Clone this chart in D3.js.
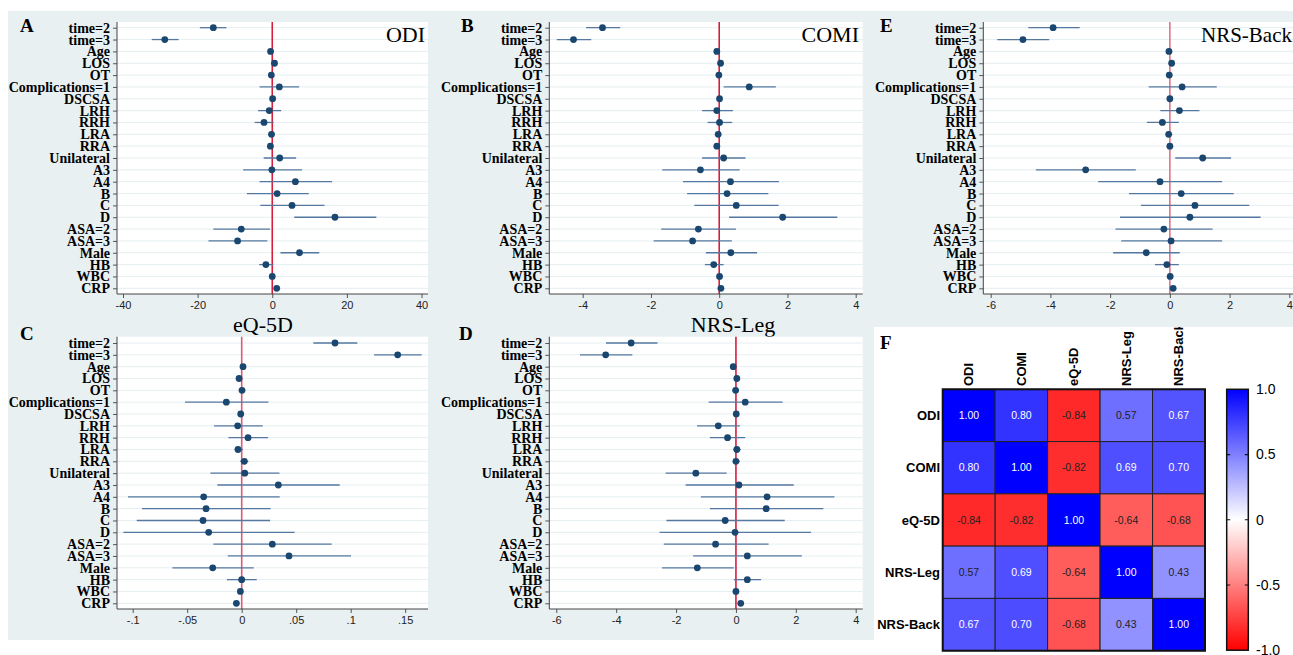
<!DOCTYPE html>
<html>
<head>
<meta charset="utf-8">
<script src="https://cdn.jsdelivr.net/npm/d3@7"></script>
<style>
body { margin: 0; background: #fff; }
svg { display: block; }
.ylab text { font-family: "Liberation Serif", "Times New Roman", serif; font-weight: bold; font-size: 14px; fill: #000; }
.xax text { font-family: "Liberation Sans", Arial, sans-serif; font-size: 11px; fill: #222; }
</style>
</head>
<body>
<svg id="fig" width="1293" height="655"></svg>
<script>
// row labels (same for every forest plot)
var rowLabels = ["time=2", "time=3", "Age", "LOS", "OT", "Complications=1", "DSCSA", "LRH", "RRH",
    "LRA", "RRA", "Unilateral", "A3", "A4", "B", "C", "D", "ASA=2", "ASA=3", "Male", "HB", "WBC", "CRP"];

// A - ODI
var odiEst = [-15.8, -28.8, -0.45, 0.6, -0.25, 1.9, 0.1, -0.8, -2.2, -0.2, -0.5, 2.0, -0.1, 6.2, 1.3, 5.3, 16.8, -8.3, -9.3, 7.3, -1.7, 0.0, 1.2];
var odiLo = [-19.4, -32.3, -0.7, 0.3, -0.5, -3.4, -0.2, -3.8, -4.7, -0.5, -0.8, -2.3, -7.8, -3.4, -6.8, -3.2, 5.9, -15.8, -17.1, 2.2, -3.5, -0.3, 0.9];
var odiHi = [-12.3, -25.1, -0.2, 0.9, 0.0, 7.2, 0.4, 2.4, 0.4, 0.1, -0.2, 6.4, 8.0, 16.0, 9.8, 14.0, 27.9, -0.6, -1.3, 12.6, 0.3, 0.3, 1.5];
var odiTicks = [-40, -20, 0, 20, 40];
var odiTickLabels = ["-40", "-20", "0", "20", "40"];

// B - COMI
var comiEst = [-3.42, -4.27, -0.07, 0.04, -0.01, 0.88, 0.01, -0.07, 0.01, -0.03, -0.07, 0.13, -0.55, 0.33, 0.23, 0.50, 1.86, -0.61, -0.78, 0.34, -0.16, 0.01, 0.05];
var comiLo = [-3.90, -4.76, -0.10, 0.01, -0.04, 0.13, -0.02, -0.50, -0.34, -0.06, -0.10, -0.50, -1.67, -1.06, -0.94, -0.73, 0.29, -1.70, -1.92, -0.39, -0.42, -0.02, 0.02];
var comiHi = [-2.90, -3.75, -0.04, 0.07, 0.02, 1.66, 0.04, 0.40, 0.38, 0.00, -0.04, 0.77, 0.60, 1.75, 1.44, 1.74, 3.46, 0.49, 0.37, 1.11, 0.13, 0.04, 0.08];
var comiTicks = [-4, -2, 0, 2, 4];
var comiTickLabels = ["-4", "-2", "0", "2", "4"];

// E - NRS-Back
var backEst = [-3.91, -4.92, -0.03, 0.06, -0.02, 0.41, 0.00, 0.32, -0.25, -0.04, 0.00, 1.10, -2.82, -0.33, 0.38, 0.84, 0.67, -0.20, 0.04, -0.79, -0.10, 0.01, 0.11];
var backLo = [-4.74, -5.78, -0.06, 0.03, -0.05, -0.71, -0.03, -0.32, -0.77, -0.13, -0.10, 0.18, -4.49, -2.40, -1.37, -0.97, -1.67, -1.82, -1.63, -1.90, -0.50, -0.02, 0.06];
var backHi = [-3.02, -4.04, 0.00, 0.09, 0.01, 1.57, 0.03, 0.99, 0.30, 0.08, 0.11, 2.05, -1.14, 1.75, 2.14, 2.66, 3.04, 1.43, 1.75, 0.33, 0.30, 0.04, 0.16];
var backTicks = [-6, -4, -2, 0, 2, 4];
var backTickLabels = ["-6", "-4", "-2", "0", "2", "4"];

// C - eQ-5D
var eqEst = [0.0856, 0.1431, 0.0012, -0.0024, 0.0003, -0.0141, -0.0009, -0.0037, 0.0058, -0.0034, 0.0024, 0.0028, 0.0336, -0.0349, -0.0327, -0.0355, -0.0303, 0.0281, 0.0434, -0.0266, 0.0000, -0.0012, -0.0049];
var eqLo = [0.0657, 0.1214, 0.0003, -0.0033, -0.0006, -0.0520, -0.0018, -0.0254, -0.0122, -0.0064, -0.0015, -0.0287, -0.0223, -0.1043, -0.0914, -0.0963, -0.1086, -0.0260, -0.0128, -0.0636, -0.0135, -0.0021, -0.0075];
var eqHi = [0.1061, 0.1651, 0.0021, -0.0015, 0.0012, 0.0245, 0.0000, 0.0193, 0.0242, 0.0012, 0.0061, 0.0346, 0.0899, 0.0349, 0.0266, 0.0260, 0.0486, 0.0826, 0.1003, 0.0110, 0.0138, -0.0003, -0.0023];
var eqTicks = [-0.1, -0.05, 0, 0.05, 0.1, 0.15];
var eqTickLabels = ["-.1", "-.05", "0", ".05", ".1", ".15"];

// D - NRS-Leg
var legEst = [-3.50, -4.35, -0.09, 0.03, -0.01, 0.31, 0.01, -0.59, -0.28, 0.03, 0.00, -1.34, 0.10, 1.04, 1.01, -0.36, -0.03, -0.68, 0.38, -1.29, 0.38, 0.00, 0.16];
var legLo = [-4.34, -5.21, -0.12, 0.00, -0.04, -0.91, -0.02, -1.30, -0.87, -0.09, -0.10, -2.35, -1.68, -1.17, -0.87, -2.32, -2.55, -2.41, -1.43, -2.47, -0.07, -0.03, 0.07];
var legHi = [-2.62, -3.46, -0.06, 0.06, 0.02, 1.56, 0.04, 0.13, 0.31, 0.16, 0.13, -0.31, 1.93, 3.29, 2.92, 1.63, 2.51, 1.09, 2.20, -0.07, 0.84, 0.03, 0.25];
var legTicks = [-6, -4, -2, 0, 2, 4];
var legTickLabels = ["-6", "-4", "-2", "0", "2", "4"];

// F - correlation matrix
var heatNames = ["ODI", "COMI", "eQ-5D", "NRS-Leg", "NRS-Back"];
var heatODI = [1.00, 0.80, -0.84, 0.57, 0.67];
var heatCOMI = [0.80, 1.00, -0.82, 0.69, 0.70];
var heatEQ = [-0.84, -0.82, 1.00, -0.64, -0.68];
var heatLeg = [0.57, 0.69, -0.64, 1.00, 0.43];
var heatBack = [0.67, 0.70, -0.68, 0.43, 1.00];
var legendTicks = [1, 0.5, 0, -0.5, -1];
var legendTickLabels = ["1.0", "0.5", "0", "-0.5", "-1.0"];

var svg = d3.select("#fig");
var serif = '"Liberation Serif", "Times New Roman", serif';
var sans = '"Liberation Sans", Arial, sans-serif';

// light graph region behind everything
svg.append("rect").attr("x", 8).attr("y", 11).attr("width", 1285).attr("height", 629).attr("fill", "#e9f0f2");

var panels = [
    { letter: "A", title: "ODI", est: odiEst, lo: odiLo, hi: odiHi, ticks: odiTicks, tickLabels: odiTickLabels,
      left: 117, right: 428, top: 22, bottom: 294, firstRow: 27.7, lastRow: 288.3, t0: 123, t1: 421.5,
      letterX: 20, letterY: 32, titleX: 425, titleY: 42, titleAnchor: "end", titleSize: 22, titleInside: true, zero: "#d61f3d" },
    { letter: "B", title: "COMI", est: comiEst, lo: comiLo, hi: comiHi, ticks: comiTicks, tickLabels: comiTickLabels,
      left: 549.3, right: 862.7, top: 22, bottom: 294, firstRow: 27.7, lastRow: 288.3, t0: 582.7, t1: 855.7,
      letterX: 461, letterY: 32, titleX: 859, titleY: 42, titleAnchor: "end", titleSize: 22, titleInside: true, zero: "#d61f3d" },
    { letter: "E", title: "NRS-Back", est: backEst, lo: backLo, hi: backHi, ticks: backTicks, tickLabels: backTickLabels,
      left: 983.3, right: 1293, top: 22, bottom: 294, firstRow: 27.7, lastRow: 288.3, t0: 990.7, t1: 1289.3,
      letterX: 880, letterY: 32, titleX: 1292, titleY: 42, titleAnchor: "end", titleSize: 21, titleInside: true, zero: "#e07389" },
    { letter: "C", title: "eQ-5D", est: eqEst, lo: eqLo, hi: eqHi, ticks: eqTicks, tickLabels: eqTickLabels,
      left: 117, right: 428, top: 336.7, bottom: 609, firstRow: 343, lastRow: 603.3, t0: 132.7, t1: 405.2,
      letterX: 20, letterY: 340, titleX: 263, titleY: 332, titleAnchor: "middle", titleSize: 22, titleInside: false, zero: "#dc5a76" },
    { letter: "D", title: "NRS-Leg", est: legEst, lo: legLo, hi: legHi, ticks: legTicks, tickLabels: legTickLabels,
      left: 549.3, right: 862.7, top: 336.7, bottom: 609, firstRow: 343, lastRow: 603.3, t0: 556.3, t1: 855.7,
      letterX: 459, letterY: 340, titleX: 733, titleY: 332, titleAnchor: "middle", titleSize: 22, titleInside: false, zero: "#d61f3d" }
];

function drawTitle(g, p) {
    g.append("text")
        .attr("x", p.titleX).attr("y", p.titleY)
        .attr("text-anchor", p.titleAnchor)
        .style("font-family", serif).style("font-size", p.titleSize + "px")
        .text(p.title);
}

function drawForest(p) {
    var g = svg.append("g");
    var x = d3.scaleLinear()
        .domain([p.ticks[0], p.ticks[p.ticks.length - 1]])
        .range([p.t0, p.t1]);
    var y = d3.scalePoint().domain(rowLabels).range([p.firstRow, p.lastRow]);

    var rows = rowLabels.map(function (name, i) {
        return { name: name, est: p.est[i], lo: p.lo[i], hi: p.hi[i] };
    });

    if (!p.titleInside) drawTitle(g, p);

    // white plot region
    g.append("rect")
        .attr("x", p.left).attr("y", p.top)
        .attr("width", p.right - p.left).attr("height", p.bottom - p.top)
        .attr("fill", "#fff");

    // gridlines at each row
    g.append("g").selectAll("line").data(rowLabels).join("line")
        .attr("x1", p.left).attr("x2", p.right)
        .attr("y1", function (d) { return y(d); })
        .attr("y2", function (d) { return y(d); })
        .attr("stroke", "#e6eef1").attr("stroke-width", 1);

    // reference line at zero
    g.append("line")
        .attr("x1", x(0)).attr("x2", x(0))
        .attr("y1", p.top).attr("y2", p.bottom)
        .attr("stroke", p.zero).attr("stroke-width", 1.6);

    // confidence intervals
    g.append("g").selectAll("line").data(rows).join("line")
        .attr("x1", function (d) { return x(d.lo); })
        .attr("x2", function (d) { return x(d.hi); })
        .attr("y1", function (d) { return y(d.name); })
        .attr("y2", function (d) { return y(d.name); })
        .attr("stroke", "#5478a0").attr("stroke-width", 1.3);

    // point estimates
    g.append("g").selectAll("circle").data(rows).join("circle")
        .attr("cx", function (d) { return x(d.est); })
        .attr("cy", function (d) { return y(d.name); })
        .attr("r", 3.4)
        .attr("fill", "#1a476f");

    // y axis
    var ya = g.append("g").attr("class", "ylab")
        .attr("transform", "translate(" + p.left + ",0)")
        .call(d3.axisLeft(y).tickSize(4).tickPadding(3));
    ya.select(".domain").remove();
    ya.selectAll("line").attr("stroke", "#555");
    g.append("line").attr("x1", p.left).attr("x2", p.left)
        .attr("y1", p.top).attr("y2", p.bottom).attr("stroke", "#444");

    // x axis
    var xa = g.append("g").attr("class", "xax")
        .attr("transform", "translate(0," + p.bottom + ")")
        .call(d3.axisBottom(x).tickValues(p.ticks).tickSize(4).tickPadding(3)
            .tickFormat(function (d, i) { return p.tickLabels[i]; }));
    xa.select(".domain").remove();
    xa.selectAll("line").attr("stroke", "#555");
    g.append("line").attr("x1", p.left).attr("x2", p.right)
        .attr("y1", p.bottom).attr("y2", p.bottom).attr("stroke", "#444");

    if (p.titleInside) drawTitle(g, p);

    // panel letter
    g.append("text")
        .attr("x", p.letterX).attr("y", p.letterY)
        .style("font-family", serif).style("font-weight", "bold").style("font-size", "19px")
        .text(p.letter);
}

panels.forEach(drawForest);

// ---- panel F: heatmap ----
var heatValues = [heatODI, heatCOMI, heatEQ, heatLeg, heatBack];
var cells = [];
heatNames.forEach(function (r, i) {
    heatNames.forEach(function (c, j) {
        cells.push({ row: r, col: c, v: heatValues[i][j] });
    });
});

svg.append("defs").append("clipPath").attr("id", "clipF")
    .append("rect").attr("x", 874).attr("y", 327).attr("width", 419).attr("height", 328);

var fg = svg.append("g").attr("clip-path", "url(#clipF)");
fg.append("rect").attr("x", 874).attr("y", 327).attr("width", 419).attr("height", 328).attr("fill", "#fff");

var color = d3.scaleLinear().domain([-1, 0, 1]).range(["#ff0000", "#ffffff", "#0000ff"]);
var hx = d3.scaleBand().domain(heatNames).range([942.7, 1205]);
var hy = d3.scaleBand().domain(heatNames).range([389.3, 650.7]);

fg.append("g").selectAll("rect").data(cells).join("rect")
    .attr("x", function (d) { return hx(d.col); })
    .attr("y", function (d) { return hy(d.row); })
    .attr("width", hx.bandwidth()).attr("height", hy.bandwidth())
    .attr("fill", function (d) { return color(d.v); })
    .attr("stroke", "#222").attr("stroke-width", 1);

fg.append("g").selectAll("text").data(cells).join("text")
    .attr("x", function (d) { return hx(d.col) + hx.bandwidth() / 2; })
    .attr("y", function (d) { return hy(d.row) + hy.bandwidth() / 2; })
    .attr("dy", "0.35em").attr("text-anchor", "middle")
    .style("font-family", sans).style("font-size", "10.5px")
    .attr("fill", function (d) { return d.v >= 0.6 ? "#fff" : "#222"; })
    .text(function (d) { return d.v.toFixed(2); });

fg.append("rect").attr("x", 942.7).attr("y", 389.3)
    .attr("width", 1205 - 942.7).attr("height", 650.7 - 389.3)
    .attr("fill", "none").attr("stroke", "#111").attr("stroke-width", 2);

// row labels
fg.append("g").selectAll("text").data(heatNames).join("text")
    .attr("x", 940).attr("y", function (d) { return hy(d) + hy.bandwidth() / 2; })
    .attr("dy", "0.35em").attr("text-anchor", "end")
    .style("font-family", sans).style("font-weight", "bold").style("font-size", "13px")
    .text(function (d) { return d; });

// column labels, rotated
fg.append("g").selectAll("text").data(heatNames).join("text")
    .attr("transform", function (d) {
        return "translate(" + (hx(d) + hx.bandwidth() / 2 + 4.5) + ",386) rotate(-90)";
    })
    .style("font-family", sans).style("font-weight", "bold").style("font-size", "13px")
    .text(function (d) { return d; });

// colour bar
var grad = svg.select("defs").append("linearGradient").attr("id", "cbar")
    .attr("x1", 0).attr("y1", 1).attr("x2", 0).attr("y2", 0);
grad.selectAll("stop").data([-1, 0, 1]).join("stop")
    .attr("offset", function (d) { return (d + 1) / 2; })
    .attr("stop-color", function (d) { return color(d); });

var ly = d3.scaleLinear().domain([-1, 1]).range([650.2, 389.3]);
fg.append("rect").attr("x", 1226.7).attr("y", 389.3)
    .attr("width", 21.6).attr("height", 650.2 - 389.3)
    .attr("fill", "url(#cbar)").attr("stroke", "#111").attr("stroke-width", 1.5);

fg.append("g").selectAll("path").data([0.5, 0, -0.5]).join("path")
    .attr("d", function (d) {
        return "M1226.7," + ly(d) + "h3.5M1248.3," + ly(d) + "h-3.5";
    })
    .attr("stroke", "#111").attr("stroke-width", 1.2);

fg.append("g").selectAll("text").data(legendTicks).join("text")
    .attr("x", 1256).attr("y", function (d) { return ly(d); })
    .attr("dy", "0.35em")
    .style("font-family", sans).style("font-size", "14px")
    .text(function (d, i) { return legendTickLabels[i]; });

fg.append("text").attr("x", 880).attr("y", 349)
    .style("font-family", serif).style("font-weight", "bold").style("font-size", "19px")
    .text("F");
</script>
</body>
</html>
